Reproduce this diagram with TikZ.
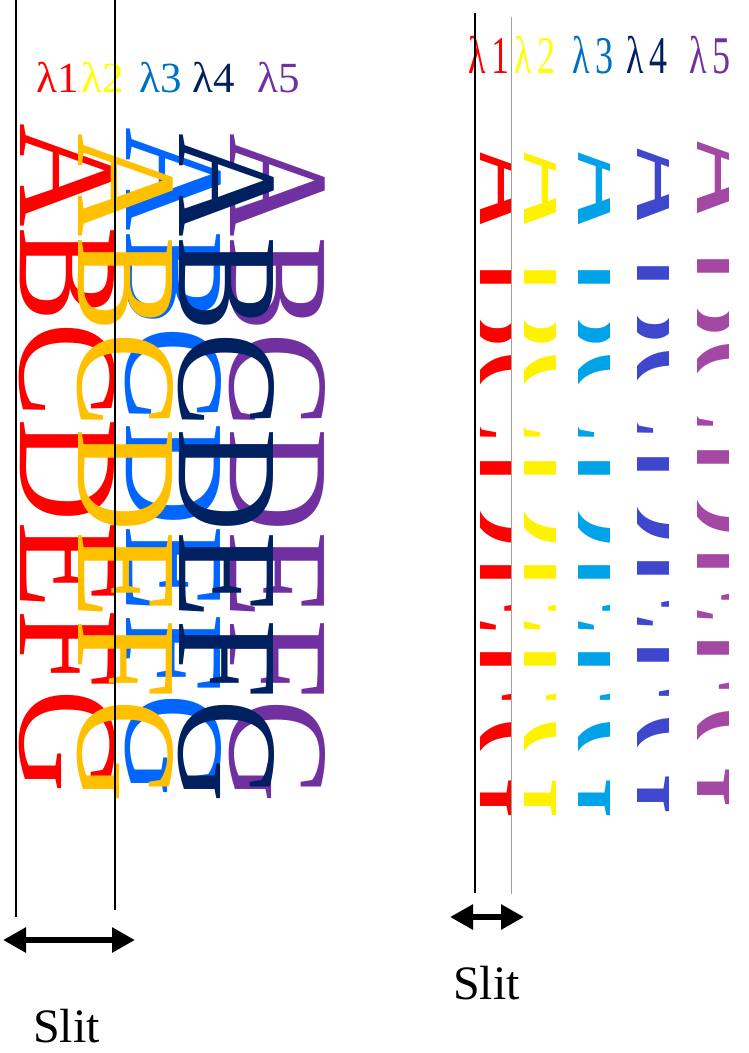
\documentclass[tikz,border=0pt]{standalone}
\usepackage{fontspec}
\setmainfont{Liberation Serif}
\usetikzlibrary{arrows.meta}
\definecolor{cRed}{HTML}{FF0000}
\definecolor{cYel}{HTML}{FFC000}
\definecolor{cBlu}{HTML}{0066FF}
\definecolor{cNav}{HTML}{002060}
\definecolor{cPur}{HTML}{7030A0}
\definecolor{lYel}{HTML}{FFFF00}
\definecolor{lBlu}{HTML}{0070C0}
\definecolor{sRed}{HTML}{FF0000}
\definecolor{sYel}{HTML}{FFF200}
\definecolor{sBlu}{HTML}{00A2E8}
\definecolor{sNav}{HTML}{3F48CC}
\definecolor{sPur}{HTML}{A349A4}
\definecolor{gLine}{HTML}{A0A0A0}
\begin{document}
\begin{tikzpicture}[x=1pt,y=-1pt,
  big/.style={rotate=-90,anchor=base west,inner sep=0pt,font=\fontsize{143.5}{150}\selectfont},
  lam/.style={anchor=base west,inner sep=0pt,font=\fontsize{43}{47}\selectfont},
  rlam/.style={anchor=base west,inner sep=0pt,xscale=0.68,font=\fontsize{53}{58}\selectfont},
  slitline/.style={line width=1.4pt},
  slitarrow/.style={{Triangle[length=23pt,width=24pt]}-{Triangle[length=23pt,width=24pt]},line width=6pt},
  slitlabel/.style={anchor=base west,inner sep=0pt,font=\fontsize{48}{52}\selectfont}]
\useasboundingbox (0,0) rectangle (749,1053);

% ---------- left: overlapping letter columns ----------
\node[big,text=cRed] (redcol) at (20,123) {ABCDEFG};
\node[big,text=cBlu] (blucol) at (126,127) {ABCDEFG};
\node[big,text=cPur] (purcol) at (230,133) {ABCDEFG};
\node[big,text=cYel] (yelcol) at (78,133) {ABCDEFG};
\node[big,text=cNav] (navcol) at (179,133) {ABCDEFG};

% wavelength labels (left)
\node[lam,text=cRed] (l1) at (36,92) {λ1};
\node[lam,text=lYel] (l2) at (81,92) {λ2};
\node[lam,text=lBlu] (l3) at (139,92) {λ3};
\node[lam,text=cNav] (l4) at (192,92) {λ4};
\node[lam,text=cPur] (l5) at (257,92) {λ5};

% slit lines (left)
\coordinate (sa1) at (16,0);   \coordinate (sa2) at (16,917);
\coordinate (sb1) at (115,0);  \coordinate (sb2) at (115,910);
\draw[slitline] (sa1) -- (sa2);
\draw[slitline] (sb1) -- (sb2);
\coordinate (la) at (3,940); \coordinate (lb) at (135,940);
\draw[slitarrow] (la) -- (lb);
\node[slitlabel] (slitL) at (33,1042) {Slit};

% ---------- right: strips seen through the slit ----------
\begin{scope}
  \clip (480,100) rectangle (511,860);
  \node[big,text=sRed] (rsA) at (465,137) {A};
  \node[big,text=sRed] (rsB) at (471,254) {BCDEFG};
\end{scope}
\begin{scope}
  \clip (524,100) rectangle (555,860);
  \node[big,text=sYel] (ysA) at (509,137) {A};
  \node[big,text=sYel] (ysB) at (515,254) {BCDEFG};
\end{scope}
\begin{scope}
  \clip (578,100) rectangle (609,860);
  \node[big,text=sBlu] (bsA) at (563,137) {A};
  \node[big,text=sBlu] (bsB) at (569,254) {BCDEFG};
\end{scope}
\begin{scope}
  \clip (637,100) rectangle (668,860);
  \node[big,text=sNav] (nsA) at (622,133) {A};
  \node[big,text=sNav] (nsB) at (628,250) {BCDEFG};
\end{scope}
\begin{scope}
  \clip (697,100) rectangle (728,860);
  \node[big,text=sPur] (psA) at (682,126) {A};
  \node[big,text=sPur] (psB) at (688,243) {BCDEFG};
\end{scope}

% wavelength labels (right)
\node[rlam,text=cRed] (r1) at (468,73) {λ\kern8pt 1};
\node[rlam,text=lYel] (r2) at (514,73) {λ\kern8pt 2};
\node[rlam,text=lBlu] (r3) at (572,73) {λ\kern8pt 3};
\node[rlam,text=cNav] (r4) at (626,73) {λ\kern8pt 4};
\node[rlam,text=cPur] (r5) at (689,73) {λ\kern8pt 5};

% slit lines (right)
\coordinate (ra1) at (475,13);  \coordinate (ra2) at (475,893);
\coordinate (rb1) at (511,17);  \coordinate (rb2) at (511,894);
\draw[line width=1.8pt] (ra1) -- (ra2);
\draw[line width=1pt,gLine] (rb1) -- (rb2);
\coordinate (rla) at (450,917); \coordinate (rlb) at (524,917);
\draw[slitarrow] (rla) -- (rlb);
\node[slitlabel] (slitR) at (453,999) {Slit};
\end{tikzpicture}
\end{document}
